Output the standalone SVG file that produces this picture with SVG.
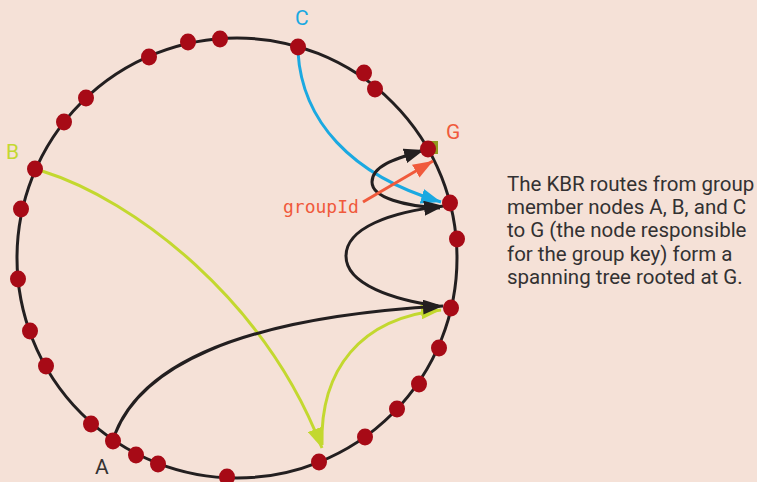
<svg xmlns="http://www.w3.org/2000/svg" width="757" height="482" viewBox="0 0 757 482">
  <defs>
    <style>
      .ring { fill: none; stroke: #231f20; stroke-width: 3; }
      .node { fill: #a70a16; }
      .edge { fill: none; stroke-width: 3; }
      .black { stroke: #231f20; }
      .blue { stroke: #1ba9e1; }
      .green { stroke: #c3d82f; }
      .orange { stroke: #f05a3c; }
      .lbl { font-family: Roboto, "Noto Sans", sans-serif; font-size: 21px; }
      .caption { font-family: Roboto, "Noto Sans", sans-serif; font-size: 20.5px; fill: #333132; }
    </style>
    <marker id="ah-black" viewBox="0 0 20 15" refX="20" refY="7.5" markerWidth="20" markerHeight="15" markerUnits="userSpaceOnUse" orient="auto">
      <path d="M0,0 L20,7.5 L0,15 Z" fill="#231f20"/>
    </marker>
    <marker id="ah-blue" viewBox="0 0 20 15" refX="20" refY="7.5" markerWidth="20" markerHeight="15" markerUnits="userSpaceOnUse" orient="auto">
      <path d="M0,0 L20,7.5 L0,15 Z" fill="#1ba9e1"/>
    </marker>
    <marker id="ah-green" viewBox="0 0 20 15" refX="20" refY="7.5" markerWidth="20" markerHeight="15" markerUnits="userSpaceOnUse" orient="auto">
      <path d="M0,0 L20,7.5 L0,15 Z" fill="#c3d82f"/>
    </marker>
    <marker id="ah-orange" viewBox="0 0 20 15" refX="20" refY="7.5" markerWidth="20" markerHeight="15" markerUnits="userSpaceOnUse" orient="auto">
      <path d="M0,0 L20,7.5 L0,15 Z" fill="#f05a3c"/>
    </marker>
  </defs>

  <rect width="757" height="482" fill="#f5e1d7"/>

  <!-- overlay ring -->
  <circle class="ring" cx="237" cy="258" r="220"/>

  <!-- marker square for the group key -->
  <rect x="428" y="141" width="10" height="13" fill="#8f9a1e"/>

  <g id="connectors">
    <path class="edge blue" d="M298,52 C302,120 350,175 441,202" marker-end="url(#ah-blue)"/>
    <path class="edge green" d="M42,171 C135,200 265,300 322,448" marker-end="url(#ah-green)"/>
    <path class="edge green" d="M322,445 C320,370 360,318 441,310" marker-end="url(#ah-green)"/>
    <path class="edge black" d="M115,434 C140,370 230,318 443,306" marker-end="url(#ah-black)"/>
    <path class="edge black" d="M438,306 C395,300 346,285 346,256 C346,228 390,212 444,206" marker-end="url(#ah-black)"/>
    <path class="edge black" d="M440,208 C405,206 372,198 372,182 C372,165 398,158 424,150" marker-end="url(#ah-black)"/>
    <path class="edge orange" d="M363,202 L433,161" marker-end="url(#ah-orange)"/>
  </g>

  <g id="nodes">
    <g id="n-A"><ellipse class="node" cx="113" cy="441" rx="8" ry="8.5"/></g>
    <g id="n-B"><ellipse class="node" cx="35" cy="169" rx="8" ry="8.5"/></g>
    <g id="n-C"><ellipse class="node" cx="298" cy="47" rx="8" ry="8.5"/></g>
    <g id="n-G"><ellipse class="node" cx="428" cy="149" rx="8" ry="8.5"/></g>
    <g id="n1"><ellipse class="node" cx="64" cy="122" rx="8" ry="8.5"/></g>
    <g id="n2"><ellipse class="node" cx="86" cy="98" rx="8" ry="8.5"/></g>
    <g id="n3"><ellipse class="node" cx="149" cy="57" rx="8" ry="8.5"/></g>
    <g id="n4"><ellipse class="node" cx="188" cy="42" rx="8" ry="8.5"/></g>
    <g id="n5"><ellipse class="node" cx="220" cy="39" rx="8" ry="8.5"/></g>
    <g id="n6"><ellipse class="node" cx="364" cy="73" rx="8" ry="8.5"/></g>
    <g id="n7"><ellipse class="node" cx="375" cy="89" rx="8" ry="8.5"/></g>
    <g id="n8"><ellipse class="node" cx="450" cy="203" rx="8" ry="8.5"/></g>
    <g id="n9"><ellipse class="node" cx="457" cy="239" rx="8" ry="8.5"/></g>
    <g id="n10"><ellipse class="node" cx="451" cy="308" rx="8" ry="8.5"/></g>
    <g id="n11"><ellipse class="node" cx="439" cy="348" rx="8" ry="8.5"/></g>
    <g id="n12"><ellipse class="node" cx="419" cy="384" rx="8" ry="8.5"/></g>
    <g id="n13"><ellipse class="node" cx="397" cy="409" rx="8" ry="8.5"/></g>
    <g id="n14"><ellipse class="node" cx="365" cy="437" rx="8" ry="8.5"/></g>
    <g id="n15"><ellipse class="node" cx="319" cy="462" rx="8" ry="8.5"/></g>
    <g id="n16"><ellipse class="node" cx="227" cy="477" rx="8" ry="8.5"/></g>
    <g id="n17"><ellipse class="node" cx="158" cy="464" rx="8" ry="8.5"/></g>
    <g id="n18"><ellipse class="node" cx="136" cy="455" rx="8" ry="8.5"/></g>
    <g id="n19"><ellipse class="node" cx="91" cy="424" rx="8" ry="8.5"/></g>
    <g id="n20"><ellipse class="node" cx="46" cy="366" rx="8" ry="8.5"/></g>
    <g id="n21"><ellipse class="node" cx="30" cy="331" rx="8" ry="8.5"/></g>
    <g id="n22"><ellipse class="node" cx="18" cy="279" rx="8" ry="8.5"/></g>
    <g id="n23"><ellipse class="node" cx="21" cy="209" rx="8" ry="8.5"/></g>
  </g>

  <g id="labels">
    <text class="lbl" x="295" y="25" fill="#1ba9e1">C</text>
    <text class="lbl" x="6" y="159" fill="#c3d82f">B</text>
    <text class="lbl" x="95" y="474" fill="#333132">A</text>
    <text class="lbl" x="446" y="139" fill="#f05a3c">G</text>
    <text x="283" y="213" fill="#f05a3c" font-family="'DejaVu Sans Mono', monospace" font-size="18">groupId</text>
  </g>

  <g id="caption">
    <text class="caption" x="507" y="191">The KBR routes from group</text>
    <text class="caption" x="507" y="214">member nodes A, B, and C</text>
    <text class="caption" x="507" y="237">to G (the node responsible</text>
    <text class="caption" x="507" y="261">for the group key) form a</text>
    <text class="caption" x="507" y="284">spanning tree rooted at G.</text>
  </g>
</svg>
